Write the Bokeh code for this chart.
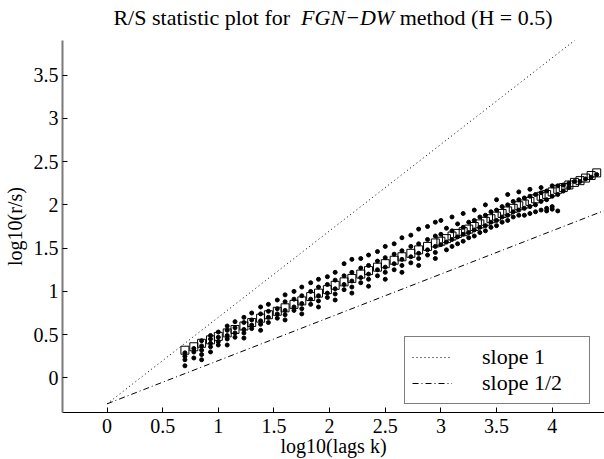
from bokeh.plotting import figure
from bokeh.models import Range1d, FixedTicker, Div
from bokeh.layouts import column
from bokeh.embed import file_html
from bokeh.resources import INLINE

# ---- data ----
log_lags = [0.70, 0.78, 0.85, 0.93, 1.00, 1.08, 1.15, 1.23, 1.30, 1.38,
            1.45, 1.53, 1.60, 1.68, 1.75, 1.83, 1.90, 1.98, 2.05, 2.13,
            2.20, 2.28, 2.35, 2.43, 2.50, 2.58, 2.65, 2.73, 2.80, 2.88,
            2.95, 3.00, 3.05, 3.10, 3.15, 3.20, 3.25, 3.30, 3.35, 3.40,
            3.45, 3.50, 3.55, 3.60, 3.65, 3.70, 3.75, 3.80, 3.85, 3.90,
            3.95, 4.00, 4.05, 4.10, 4.15, 4.20, 4.25, 4.30, 4.35, 4.40]

mean_rs = [0.32, 0.36, 0.40, 0.44, 0.48, 0.52, 0.56, 0.60, 0.64, 0.69,
           0.73, 0.77, 0.81, 0.85, 0.89, 0.94, 0.98, 1.02, 1.07, 1.11,
           1.15, 1.20, 1.24, 1.28, 1.32, 1.36, 1.40, 1.44, 1.48, 1.52,
           1.56, 1.58, 1.61, 1.64, 1.67, 1.69, 1.72, 1.75, 1.78, 1.81,
           1.84, 1.87, 1.90, 1.93, 1.96, 1.99, 2.01, 2.04, 2.07, 2.10,
           2.12, 2.15, 2.18, 2.20, 2.23, 2.26, 2.28, 2.31, 2.34, 2.37]

block_rs = [
    [0.29, 0.25, 0.21, 0.14], [0.34, 0.30, 0.23], [0.43, 0.37, 0.32, 0.27, 0.21],
    [0.49, 0.45, 0.40, 0.36, 0.30], [0.53, 0.47, 0.42, 0.38], [0.60, 0.55, 0.49, 0.45, 0.38],
    [0.65, 0.58, 0.52, 0.47], [0.70, 0.64, 0.56, 0.52, 0.46], [0.75, 0.67, 0.61, 0.57],
    [0.82, 0.74, 0.66, 0.62, 0.55], [0.85, 0.77, 0.70, 0.64], [0.90, 0.80, 0.74, 0.69],
    [0.96, 0.88, 0.78, 0.73, 0.67], [1.00, 0.91, 0.82, 0.78], [1.05, 0.95, 0.86, 0.80, 0.74],
    [1.10, 1.00, 0.91, 0.85], [1.14, 1.05, 0.95, 0.89, 0.82], [1.17, 1.08, 0.98, 0.93],
    [1.22, 1.13, 1.03, 0.97, 0.90], [1.32, 1.18, 1.08, 1.02], [1.37, 1.22, 1.12, 1.05, 0.98],
    [1.38, 1.27, 1.16, 1.10], [1.42, 1.30, 1.20, 1.14, 1.06], [1.46, 1.35, 1.25, 1.18],
    [1.52, 1.39, 1.28, 1.22, 1.14], [1.55, 1.43, 1.32, 1.25], [1.62, 1.47, 1.37, 1.30, 1.22],
    [1.65, 1.52, 1.40, 1.33], [1.72, 1.55, 1.44, 1.38, 1.30], [1.75, 1.60, 1.48, 1.42],
    [1.80, 1.64, 1.52, 1.45, 1.38], [1.82, 1.66, 1.54], [1.73, 1.57, 1.48],
    [1.86, 1.70, 1.60, 1.52], [1.78, 1.63, 1.55], [1.90, 1.74, 1.66, 1.58],
    [1.80, 1.68, 1.62], [1.94, 1.82, 1.71, 1.64], [1.86, 1.74, 1.68],
    [2.00, 1.88, 1.76, 1.70], [1.92, 1.80, 1.74], [2.06, 1.94, 1.82, 1.76],
    [1.98, 1.86, 1.80], [2.12, 2.00, 1.88, 1.82], [2.04, 1.92, 1.86],
    [2.15, 2.06, 1.94, 1.88], [2.08, 1.96, 1.88], [2.18, 2.10, 1.98, 1.90],
    [2.12, 2.00, 1.92], [2.20, 2.14, 2.04, 1.94], [2.16, 2.06, 1.96, 1.93],
    [2.22, 2.10, 1.98, 1.95], [2.22, 2.12, 1.93], [2.23, 2.16], [2.25, 2.20],
    [2.27], [2.27], [2.30], [2.32], [2.35],
]

ref_slopes = [1.0, 0.5]
ref_labels = ["slope 1", "slope 1/2"]
ref_dashes = ["1 3", "6 3 1 3"]
ref_intercept = -0.3

x_ticks = [0, 0.5, 1, 1.5, 2, 2.5, 3, 3.5, 4]
x_tick_labels = ["0", "0.5", "1", "1.5", "2", "2.5", "3", "3.5", "4"]
y_ticks = [0, 0.5, 1, 1.5, 2, 2.5, 3, 3.5]
y_tick_labels = ["0", "0.5", "1", "1.5", "2", "2.5", "3", "3.5"]

title_before = "R/S statistic plot for"
title_italic = "FGN&minus;DW"
title_after = "method (H = 0.5)"
x_label = "log10(lags k)"
y_label = "log10(r/s)"

X_MIN, X_MAX = -0.4, 4.47
Y_MIN, Y_MAX = -0.4, 3.9
FONT = "Liberation Serif"

title_div = Div(
    text=('<div style="margin-left:62px;width:542px;padding-top:7px;'
          'text-align:center;font-family:\'Liberation Serif\';font-size:22px;'
          'line-height:22px;white-space:nowrap;color:black">'
          f'{title_before}&nbsp; <i>{title_italic}</i> {title_after}</div>'),
    width=604, height=40, margin=0)

p = figure(width=604, height=419, x_range=Range1d(X_MIN, X_MAX),
           y_range=Range1d(Y_MIN, Y_MAX), output_backend="svg",
           toolbar_location=None, min_border_left=62, min_border_right=0,
           min_border_top=0, min_border_bottom=47, margin=0)
p.outline_line_color = None
p.xgrid.grid_line_color = None
p.ygrid.grid_line_color = None
p.background_fill_color = "white"

for ax, ticks, labels, standoff in ((p.xaxis, x_ticks, x_tick_labels, 6),
                                    (p.yaxis, y_ticks, y_tick_labels, 4)):
    ax.ticker = FixedTicker(ticks=ticks)
    ax.major_label_overrides = {float(t): l for t, l in zip(ticks, labels)}
    ax.major_tick_in = 5
    ax.major_tick_out = 0
    ax.minor_tick_in = 0
    ax.minor_tick_out = 0
    ax.axis_line_color = "black"
    ax.major_tick_line_color = "black"
    ax.major_label_text_font = FONT
    ax.major_label_text_font_size = "20px"
    ax.major_label_text_color = "black"
    ax.major_label_standoff = standoff
    ax.axis_label_text_font = FONT
    ax.axis_label_text_font_size = "20px"
    ax.axis_label_text_font_style = "normal"
    ax.axis_label_text_color = "black"

p.yaxis.axis_line_color = "#7a7a7a"
p.yaxis.axis_line_width = 2
p.xaxis.axis_label = x_label
p.xaxis.axis_label_standoff = -1
p.yaxis.axis_label = y_label
p.yaxis.axis_label_standoff = 5

# scatter of block R/S values
sx, sy = [], []
for xv, vals in zip(log_lags, block_rs):
    for v in vals:
        sx.append(xv)
        sy.append(v)
p.scatter(sx, sy, marker="circle", size=4, color="black")

# averages as squares
p.scatter(log_lags, mean_rs, marker="square", size=8, fill_alpha=0,
          line_color="black", line_width=1)

# reference lines
ref_x = [0, X_MAX]
for s, lab, dash in zip(ref_slopes, ref_labels, ref_dashes):
    p.line(ref_x, [ref_intercept + s * xv for xv in ref_x], line_color="black",
           line_width=1, line_dash=dash, legend_label=lab)

lg = p.legend[0]
lg.location = (342, 8)
lg.label_text_font = FONT
lg.label_text_font_size = "22px"
lg.label_text_color = "black"
lg.glyph_width = 40
lg.glyph_height = 20
lg.label_height = 20
lg.label_width = 100
lg.label_standoff = 30
lg.padding = 7
lg.spacing = 0
lg.border_line_color = "black"
lg.border_line_width = 1.5
lg.background_fill_alpha = 1

layout = column(title_div, p, spacing=0)
open("out.html", "w").write(file_html(layout, INLINE))
